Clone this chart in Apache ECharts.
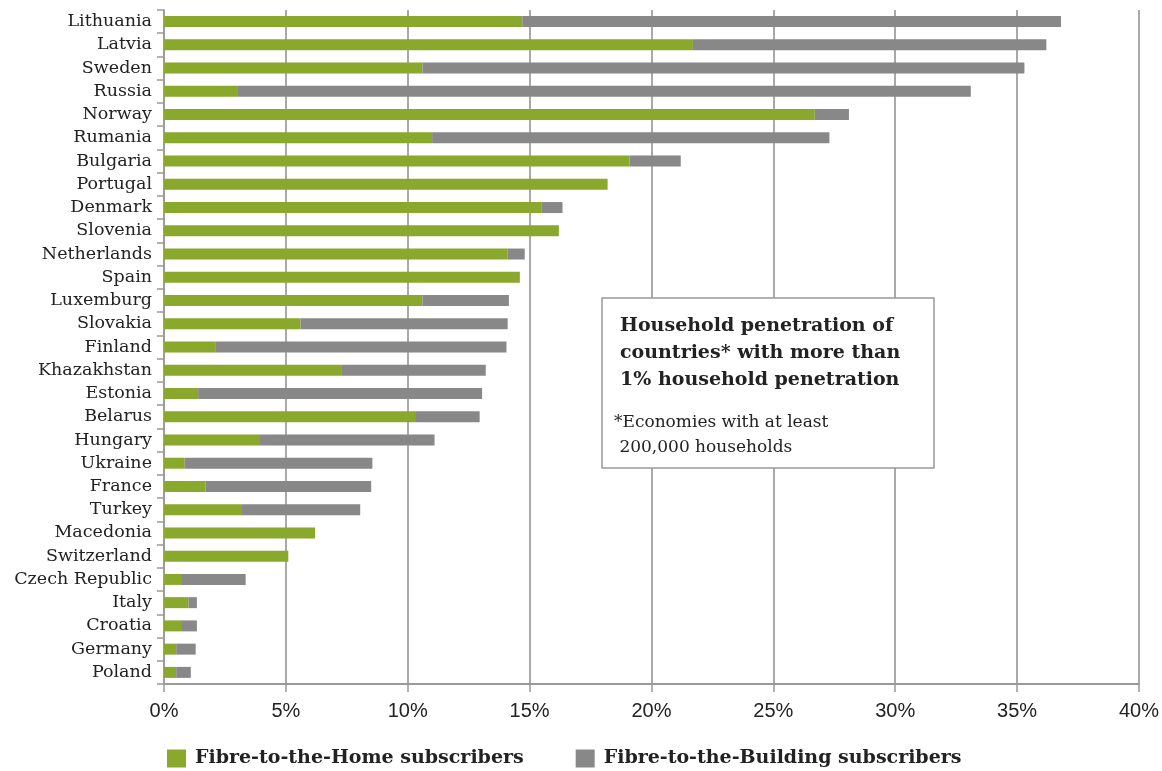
<!DOCTYPE html>
<html>
<head>
<meta charset="utf-8">
<script src="https://cdn.jsdelivr.net/npm/echarts@6/dist/echarts.min.js"></script>
<style>html,body{margin:0;padding:0;background:#fff}#c{width:1162px;height:771px}</style>
</head>
<body>
<div id="c"></div>
<script>
const countries = ["Lithuania","Latvia","Sweden","Russia","Norway","Rumania","Bulgaria","Portugal","Denmark","Slovenia","Netherlands","Spain","Luxemburg","Slovakia","Finland","Khazakhstan","Estonia","Belarus","Hungary","Ukraine","France","Turkey","Macedonia","Switzerland","Czech Republic","Italy","Croatia","Germany","Poland"];
const ftth = [14.7,21.7,10.6,3.0,26.7,11.0,19.1,18.2,15.5,16.2,14.1,14.6,10.6,5.6,2.1,7.3,1.4,10.3,3.9,0.85,1.7,3.2,6.2,5.1,0.7,1.0,0.7,0.5,0.5];
const fttb = [22.1,14.5,24.7,30.1,1.4,16.3,2.1,0,0.85,0,0.7,0,3.55,8.5,11.95,5.9,11.65,2.65,7.2,7.7,6.8,4.85,0,0,2.65,0.35,0.65,0.8,0.6];
const xTicks = ["0%","5%","10%","15%","20%","25%","30%","35%","40%"];
const boxTitle = ["Household penetration of","countries* with more than","1% household penetration"];
const boxNote = ["*Economies with at least"," 200,000 households"];

const green = "#8aa82b", grey = "#888888";
const serif = "'DejaVu Serif', serif";
const chart = echarts.init(document.getElementById('c'));
chart.setOption({
  animation: false,
  grid: {left: 164, right: 23, top: 10, bottom: 87, containLabel: false},
  legend: {
    top: 744, left: 162, itemWidth: 19, itemHeight: 18, itemGap: 52,
    icon: 'rect',
    textStyle: {fontFamily: serif, fontWeight: 'bold', fontSize: 19, color: '#222', padding: [0, 0, 0, 4]},
    data: ["Fibre-to-the-Home subscribers","Fibre-to-the-Building subscribers"]
  },
  xAxis: {
    type: 'value', min: 0, max: 40, interval: 5,
    axisLine: {show: true, lineStyle: {color: '#999', width: 2}},
    axisTick: {show: true, length: 8, lineStyle: {color: '#999', width: 1.5}},
    splitLine: {show: true, lineStyle: {color: '#8c8c8c', width: 1.5}},
    axisLabel: {fontFamily: "'Liberation Sans', Arial, sans-serif", fontSize: 20, color: '#222', margin: 17,
      formatter: v => xTicks[v/5]}
  },
  yAxis: {
    type: 'category', data: countries, inverse: true,
    axisLine: {show: true, lineStyle: {color: '#999', width: 1.5}},
    axisTick: {show: true, length: 7, interval: 0, lineStyle: {color: '#999', width: 1.5}},
    axisLabel: {interval: 0, fontFamily: serif, fontSize: 17.5, color: '#222', margin: 12}
  },
  series: [
    {name: "Fibre-to-the-Home subscribers", type: 'bar', stack: 's', data: ftth, barWidth: 11, itemStyle: {color: green}},
    {name: "Fibre-to-the-Building subscribers", type: 'bar', stack: 's', data: fttb, barWidth: 11, itemStyle: {color: grey}}
  ],
  graphic: [
    {type: 'rect', shape: {x: 602, y: 298, width: 332, height: 170}, style: {fill: '#fff', stroke: '#999', lineWidth: 1.5}, z: 100},
    {type: 'text', left: 620, top: 313, z: 101, style: {text: boxTitle.join('\n'), font: "bold 19px 'DejaVu Serif', serif", lineHeight: 27, fill: '#222'}},
    {type: 'text', left: 614, top: 410, z: 101, style: {text: boxNote.join('\n'), font: "17px 'DejaVu Serif', serif", lineHeight: 25, fill: '#222'}}
  ]
});
</script>
</body>
</html>
